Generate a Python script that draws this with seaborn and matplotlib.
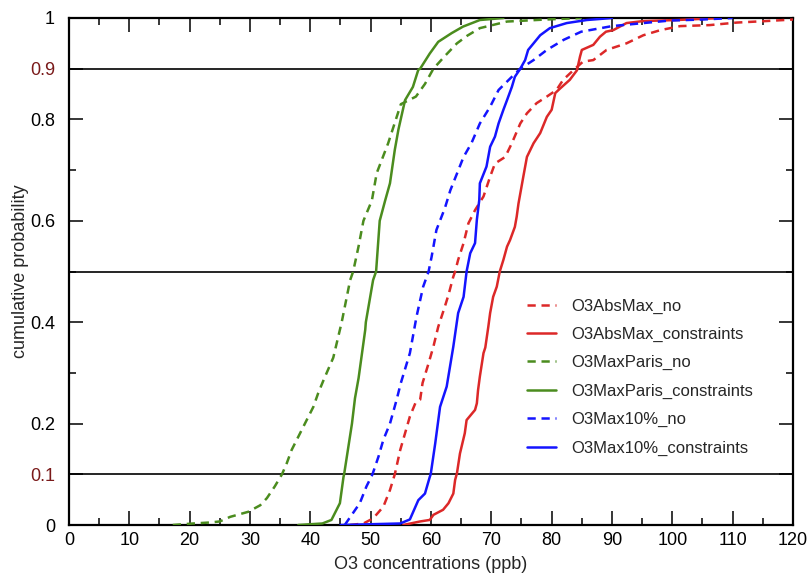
import matplotlib
matplotlib.use("Agg")
import matplotlib.pyplot as plt
from matplotlib import font_manager
from matplotlib.ticker import FixedLocator, MultipleLocator
import numpy as np
import pandas as pd
import seaborn as sns

# Cumulative probability curves of O3 concentrations (ppb)
series_names = ["O3AbsMax_no", "O3AbsMax_constraints",
                "O3MaxParis_no", "O3MaxParis_constraints",
                "O3Max10%_no", "O3Max10%_constraints"]

abs_no_x = [46.6, 48.8, 50.4, 52.1, 53.2, 54.0, 54.9, 55.7, 56.5, 57.4,
            58.2, 58.6, 59.6, 60.4, 61.2, 62.3, 62.9, 63.7, 64.0, 64.5,
            65.4, 66.2, 67.3, 68.7, 69.8, 70.6, 72.3, 73.4, 74.8, 75.9,
            77.5, 79.2, 80.8, 81.9, 83.6, 85.2, 86.9, 89.1, 92.4, 95.2,
            98.0, 101.3, 106.2, 110.7, 115.6, 120.0]
abs_no_p = [0.0, 0.003, 0.013, 0.036, 0.069, 0.1, 0.148, 0.181, 0.214, 0.24,
            0.247, 0.28, 0.319, 0.352, 0.391, 0.431, 0.454, 0.49, 0.5, 0.523,
            0.556, 0.595, 0.621, 0.648, 0.687, 0.713, 0.726, 0.753, 0.792, 0.812,
            0.832, 0.845, 0.858, 0.878, 0.897, 0.914, 0.917, 0.937, 0.95, 0.966,
            0.976, 0.984, 0.986, 0.991, 0.994, 0.997]

abs_con_x = [55.4, 58.2, 59.8, 60.4, 62.0, 62.9, 63.7, 64.0, 64.3, 64.8,
             65.6, 65.9, 67.3, 67.6, 67.8, 68.1, 68.7, 69.0, 69.5, 69.8,
             70.3, 70.9, 71.4, 72.0, 72.6, 73.1, 73.9, 74.2, 74.5, 75.3,
             75.9, 77.0, 78.1, 79.2, 80.0, 80.6, 81.4, 83.0, 84.2, 84.7,
             85.0, 86.9, 88.0, 89.0, 90.2, 92.4, 95.2, 100.7, 108.0]
abs_con_p = [0.0, 0.007, 0.01, 0.02, 0.03, 0.043, 0.062, 0.089, 0.102, 0.141,
             0.181, 0.207, 0.227, 0.24, 0.266, 0.293, 0.339, 0.35, 0.391, 0.418,
             0.45, 0.47, 0.5, 0.523, 0.549, 0.562, 0.588, 0.608, 0.634, 0.687,
             0.726, 0.753, 0.773, 0.805, 0.819, 0.852, 0.861, 0.878, 0.897, 0.924,
             0.937, 0.947, 0.963, 0.973, 0.976, 0.99, 0.994, 0.996, 1.0]

paris_no_x = [17.2, 20.6, 23.4, 25.0, 26.7, 29.7, 31.7, 32.8, 34.1, 35.3,
              36.1, 36.9, 38.3, 39.1, 40.5, 41.3, 42.2, 43.8, 45.2, 46.6,
              47.1, 48.0, 48.8, 50.2, 51.0, 52.9, 55.0, 57.5, 59.0, 60.4,
              62.3, 64.3, 66.0, 68.1, 72.6, 79.0, 85.0]
paris_no_p = [0.0, 0.003, 0.005, 0.007, 0.016, 0.026, 0.039, 0.053, 0.076, 0.1,
              0.122, 0.148, 0.181, 0.2, 0.233, 0.26, 0.286, 0.33, 0.4, 0.483,
              0.5, 0.55, 0.6, 0.64, 0.694, 0.753, 0.83, 0.845, 0.87, 0.9,
              0.925, 0.95, 0.965, 0.98, 0.993, 0.997, 1.0]

paris_con_x = [38.0, 42.0, 43.5, 44.9, 45.5, 45.6, 46.9, 47.4, 48.0, 49.1,
               49.2, 50.4, 50.9, 51.5, 52.4, 53.2, 54.0, 54.6, 55.7, 57.0,
               57.9, 58.2, 59.8, 61.2, 63.4, 65.3, 68.1, 72.0]
paris_con_p = [0.0, 0.003, 0.01, 0.043, 0.095, 0.1, 0.2, 0.25, 0.29, 0.385,
               0.4, 0.483, 0.5, 0.6, 0.64, 0.674, 0.74, 0.78, 0.838, 0.864,
               0.898, 0.9, 0.93, 0.953, 0.97, 0.983, 0.996, 1.0]

ten_no_x = [45.7, 48.2, 49.3, 50.3, 51.3, 52.1, 53.2, 54.3, 55.0, 56.5,
            57.6, 58.7, 59.6, 60.1, 60.9, 62.3, 63.2, 65.4, 66.7, 68.1,
            69.8, 71.2, 73.4, 74.8, 77.0, 79.2, 82.0, 84.9, 90.0, 95.2,
            99.6, 105.0, 110.0]
ten_no_p = [0.0, 0.043, 0.076, 0.1, 0.135, 0.168, 0.2, 0.247, 0.28, 0.339,
            0.411, 0.47, 0.5, 0.529, 0.582, 0.625, 0.66, 0.726, 0.753, 0.792,
            0.825, 0.858, 0.884, 0.9, 0.917, 0.937, 0.957, 0.973, 0.984, 0.99,
            0.995, 0.997, 1.0]

ten_con_x = [45.0, 54.9, 56.5, 57.9, 59.0, 59.8, 59.95, 60.7, 61.5, 62.6,
             63.7, 64.5, 65.4, 65.9, 66.5, 67.3, 67.6, 68.0, 68.1, 69.2,
             69.8, 70.6, 71.2, 72.0, 72.6, 73.4, 73.9, 74.8, 75.6, 76.1,
             77.0, 78.1, 79.7, 82.5, 85.8, 90.0]
ten_con_p = [0.0, 0.003, 0.011, 0.049, 0.062, 0.095, 0.1, 0.161, 0.233, 0.273,
             0.352, 0.418, 0.45, 0.5, 0.536, 0.556, 0.602, 0.641, 0.674, 0.707,
             0.746, 0.766, 0.792, 0.819, 0.838, 0.864, 0.884, 0.9, 0.917, 0.937,
             0.95, 0.966, 0.98, 0.99, 0.996, 1.0]

series_x = [abs_no_x, abs_con_x, paris_no_x, paris_con_x, ten_no_x, ten_con_x]
series_p = [abs_no_p, abs_con_p, paris_no_p, paris_con_p, ten_no_p, ten_con_p]

# Reference probability levels drawn as horizontal lines
ref_levels = [0.1, 0.5, 0.9]

x_ticks = list(range(0, 121, 10))
y_ticks = [0, 0.1, 0.2, 0.4, 0.6, 0.8, 0.9, 1]
y_ticklabels = ["0", "0.1", "0.2", "0.4", "0.6", "0.8", "0.9", "1"]

colors = {"O3AbsMax": "#dc2828", "O3MaxParis": "#4b8c1e", "O3Max10%": "#1414ff"}
level_label_color = "#7a1a1a"

sns.set_theme(style="ticks")
available = {f.name for f in font_manager.fontManager.ttflist}
families = [f for f in ["Liberation Sans Narrow", "Liberation Sans", "DejaVu Sans"]
            if f in available]
plt.rcParams["font.family"] = families

fig = plt.figure(figsize=(8.12, 5.74), dpi=100)
ax = fig.add_axes([69 / 812, 1 - 525 / 574, 724 / 812, 507 / 574])

for level in ref_levels:
    ax.axhline(level, color="black", lw=1.2, zorder=1)

for name, xs, ps in zip(series_names, series_x, series_p):
    base, kind = name.rsplit("_", 1)
    df = pd.DataFrame({"O3": xs, "prob": ps})
    line_kw = dict(color=colors[base], lw=1.8, label=name, zorder=3)
    if kind == "no":
        line_kw["dashes"] = (3.3, 2.3)
    sns.lineplot(data=df, x="O3", y="prob", sort=False, estimator=None,
                 ax=ax, **line_kw)

ax.set_xlim(0, 120)
ax.set_ylim(0, 1)
ax.set_xticks(x_ticks)
ax.xaxis.set_minor_locator(MultipleLocator(5))
ax.set_yticks(y_ticks)
ax.set_yticklabels(y_ticklabels)
ax.yaxis.set_minor_locator(FixedLocator([0.3, 0.5, 0.7]))

ax.tick_params(which="both", direction="in", top=True, right=True,
               width=1.1, colors="black", labelsize=13)
ax.tick_params(which="major", length=10)
ax.tick_params(which="minor", length=5)
ax.tick_params(axis="y", which="both", pad=10)
ax.tick_params(axis="x", which="both", pad=5)

for lbl, val in zip(ax.get_yticklabels(), y_ticks):
    if val in (0.1, 0.9):
        lbl.set_color(level_label_color)

for side in ["left", "right", "top", "bottom"]:
    ax.spines[side].set_visible(True)
    ax.spines[side].set_linewidth(1.6)
    ax.spines[side].set_color("black")

ax.set_xlabel("O3 concentrations (ppb)", fontsize=13, labelpad=5)
ax.set_ylabel("cumulative probability", fontsize=13, labelpad=1)

leg = ax.legend(loc="upper left", bbox_to_anchor=(0.632, 0.447), frameon=False,
                fontsize=12, handlelength=1.75, handletextpad=0.95,
                labelspacing=0.8, borderpad=0, borderaxespad=0)

fig.savefig("out.png", dpi=100)
